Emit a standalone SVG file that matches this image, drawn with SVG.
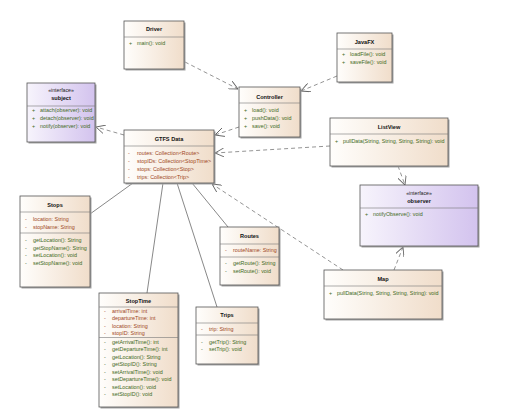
<svg xmlns="http://www.w3.org/2000/svg" width="510" height="413" viewBox="0 0 510 413">
<style>
.box{stroke:#555;stroke-width:0.8}
.cls{fill:url(#gc)}
.itf{fill:url(#gi)}
.sh{fill:#a4a4a4}
.sep{stroke:#777;stroke-width:0.6}
text{font-family:"Liberation Sans",Arial,sans-serif;font-size:5.4px}
.t{font-weight:bold;font-size:5.6px;text-anchor:middle;fill:#111}
.st{font-size:5.2px;text-anchor:middle;fill:#222}
.a{fill:#a0471c}
.m{fill:#3f6a1c}
.dep{fill:none;stroke:#666;stroke-width:0.7;stroke-dasharray:4,3}
.as{fill:none;stroke:#555;stroke-width:0.7}
</style>
<defs>
<linearGradient id="gc" x1="0" y1="0" x2="1" y2="0">
<stop offset="0" stop-color="#fffefc"/>
<stop offset="1" stop-color="#f0ddca"/>
</linearGradient>
<linearGradient id="gi" x1="0" y1="0" x2="1" y2="0">
<stop offset="0" stop-color="#f7f4fc"/>
<stop offset="1" stop-color="#d3c3ee"/>
</linearGradient>
<marker id="arr" viewBox="0 0 10 10" refX="10" refY="5" markerWidth="9" markerHeight="9" markerUnits="userSpaceOnUse" orient="auto">
<path d="M0,0 L10,5 L0,10" fill="none" stroke="#666" stroke-width="1"/>
</marker>
</defs>
<rect width="510" height="413" fill="#ffffff"/>

<g id="connectors">
<line class="dep" x1="185" y1="62" x2="238" y2="89" marker-end="url(#arr)"/>
<line class="dep" x1="337" y1="76" x2="301" y2="91" marker-end="url(#arr)"/>
<line class="dep" x1="239" y1="127" x2="215" y2="135" marker-end="url(#arr)"/>
<line class="dep" x1="124" y1="135" x2="96" y2="127" marker-end="url(#arr)"/>
<line class="dep" x1="330" y1="146" x2="215" y2="153" marker-end="url(#arr)"/>
<line class="dep" x1="398" y1="166" x2="405" y2="185" marker-end="url(#arr)"/>
<line class="dep" x1="394" y1="270" x2="403" y2="247" marker-end="url(#arr)"/>
<line class="dep" x1="343" y1="270" x2="212" y2="184" marker-end="url(#arr)"/>
<line class="as" x1="133" y1="183" x2="90" y2="214"/>
<line class="as" x1="163" y1="183" x2="147" y2="293"/>
<line class="as" x1="177" y1="183" x2="217" y2="307"/>
<line class="as" x1="192" y1="183" x2="228" y2="227"/>
</g>

<g id="driver">
<rect class="sh" x="125.5" y="22.5" width="60" height="48"/>
<rect class="box cls" x="124" y="21" width="60" height="48"/>
<line class="sep" x1="124" y1="37" x2="184" y2="37"/>
<text class="t" x="154" y="31">Driver</text>
<text class="m" x="129" y="45">+</text><text class="m" x="137" y="45">main(): void</text>
</g>

<g id="javafx">
<rect class="sh" x="338.5" y="34.5" width="55" height="49"/>
<rect class="box cls" x="337" y="33" width="55" height="49"/>
<line class="sep" x1="337" y1="49" x2="392" y2="49"/>
<text class="t" x="364.5" y="44">JavaFX</text>
<text class="m" x="342" y="56">+</text><text class="m" x="350" y="56">loadFile(): void</text>
<text class="m" x="342" y="64">+</text><text class="m" x="350" y="64">saveFile(): void</text>
</g>

<g id="controller">
<rect class="sh" x="240.5" y="88.5" width="61" height="50"/>
<rect class="box cls" x="239" y="87" width="61" height="50"/>
<line class="sep" x1="239" y1="103" x2="300" y2="103"/>
<text class="t" x="269.5" y="99">Controller</text>
<text class="m" x="244" y="112">+</text><text class="m" x="252" y="112">load(): void</text>
<text class="m" x="244" y="120">+</text><text class="m" x="252" y="120">pushData(): void</text>
<text class="m" x="244" y="128">+</text><text class="m" x="252" y="128">save(): void</text>
</g>

<g id="subject">
<rect class="sh" x="28.5" y="84.5" width="68" height="59"/>
<rect class="box itf" x="27" y="83" width="68" height="59"/>
<line class="sep" x1="27" y1="106" x2="95" y2="106"/>
<text class="st" x="61" y="92">«interface»</text>
<text class="t" x="61" y="100">subject</text>
<text class="m" x="32" y="112">+</text><text class="m" x="40" y="112">attach(observer): void</text>
<text class="m" x="32" y="120">+</text><text class="m" x="40" y="120">detach(observer): void</text>
<text class="m" x="32" y="128">+</text><text class="m" x="40" y="128">notify(observer): void</text>
</g>

<g id="gtfsdata">
<rect class="sh" x="125.5" y="131.5" width="90" height="53"/>
<rect class="box cls" x="124" y="130" width="90" height="53"/>
<line class="sep" x1="124" y1="146" x2="214" y2="146"/>
<text class="t" x="169" y="141">GTFS Data</text>
<text class="a" x="128" y="155">-</text><text class="a" x="137" y="155">routes: Collection&lt;Route&gt;</text>
<text class="a" x="128" y="163">-</text><text class="a" x="137" y="163">stopIDs: Collection&lt;StopTime&gt;</text>
<text class="a" x="128" y="171">-</text><text class="a" x="137" y="171">stops: Collection&lt;Stop&gt;</text>
<text class="a" x="128" y="179">-</text><text class="a" x="137" y="179">trips: Collection&lt;Trip&gt;</text>
</g>

<g id="listview">
<rect class="sh" x="331.5" y="119.5" width="118" height="48"/>
<rect class="box cls" x="330" y="118" width="118" height="48"/>
<line class="sep" x1="330" y1="134" x2="448" y2="134"/>
<text class="t" x="389" y="129">ListView</text>
<text class="m" x="335" y="143">+</text><text class="m" x="343" y="143">pullData(String, String, String, String): void</text>
</g>

<g id="observer">
<rect class="sh" x="361.5" y="186.5" width="118" height="61"/>
<rect class="box itf" x="360" y="185" width="118" height="61"/>
<line class="sep" x1="360" y1="208" x2="478" y2="208"/>
<text class="st" x="419" y="195">«interface»</text>
<text class="t" x="419" y="203">observer</text>
<text class="m" x="365" y="216">+</text><text class="m" x="373" y="216">notifyObserve(): void</text>
</g>

<g id="stops">
<rect class="sh" x="21.5" y="197.5" width="70" height="91"/>
<rect class="box cls" x="20" y="196" width="70" height="91"/>
<line class="sep" x1="20" y1="212" x2="90" y2="212"/>
<line class="sep" x1="20" y1="233" x2="90" y2="233"/>
<text class="t" x="55" y="207">Stops</text>
<text class="a" x="25" y="221">-</text><text class="a" x="33" y="221">location: String</text>
<text class="a" x="25" y="229">-</text><text class="a" x="33" y="229">stopName: String</text>
<text class="m" x="25" y="242">-</text><text class="m" x="33" y="242">getLocation(): String</text>
<text class="m" x="25" y="249.5">-</text><text class="m" x="33" y="249.5">getStopName(): String</text>
<text class="m" x="25" y="257">-</text><text class="m" x="33" y="257">setLocation(): void</text>
<text class="m" x="25" y="265">-</text><text class="m" x="33" y="265">setStopName(): void</text>
</g>

<g id="routes">
<rect class="sh" x="221.5" y="228.5" width="59" height="58"/>
<rect class="box cls" x="220" y="227" width="59" height="58"/>
<line class="sep" x1="220" y1="244" x2="279" y2="244"/>
<line class="sep" x1="220" y1="257" x2="279" y2="257"/>
<text class="t" x="249.5" y="238">Routes</text>
<text class="a" x="225" y="252">-</text><text class="a" x="233" y="252">routeName: String</text>
<text class="m" x="225" y="265">-</text><text class="m" x="233" y="265">getRoute(): String</text>
<text class="m" x="225" y="273">-</text><text class="m" x="233" y="273">setRoute(): void</text>
</g>

<g id="map">
<rect class="sh" x="325.5" y="271.5" width="118" height="49"/>
<rect class="box cls" x="324" y="270" width="118" height="49"/>
<line class="sep" x1="324" y1="286" x2="442" y2="286"/>
<text class="t" x="383" y="281">Map</text>
<text class="m" x="329" y="295">+</text><text class="m" x="337" y="295">pullData(String, String, String, String): void</text>
</g>

<g id="stoptime">
<rect class="sh" x="100.5" y="294.5" width="79" height="114"/>
<rect class="box cls" x="99" y="293" width="79" height="114"/>
<line class="sep" x1="99" y1="307" x2="178" y2="307"/>
<line class="sep" x1="99" y1="337.5" x2="178" y2="337.5"/>
<text class="t" x="138.5" y="303">StopTime</text>
<text class="a" x="104" y="313">-</text><text class="a" x="112" y="313">arrivalTime: int</text>
<text class="a" x="104" y="320">-</text><text class="a" x="112" y="320">departureTime: int</text>
<text class="a" x="104" y="327.5">-</text><text class="a" x="112" y="327.5">location: String</text>
<text class="a" x="104" y="335">-</text><text class="a" x="112" y="335">stopID: String</text>
<text class="m" x="104" y="343.5">-</text><text class="m" x="112" y="343.5">getArrivalTime(): int</text>
<text class="m" x="104" y="351">-</text><text class="m" x="112" y="351">getDepartureTime(): int</text>
<text class="m" x="104" y="358.5">-</text><text class="m" x="112" y="358.5">getLocation(): String</text>
<text class="m" x="104" y="366">-</text><text class="m" x="112" y="366">getStopID(): String</text>
<text class="m" x="104" y="373.5">-</text><text class="m" x="112" y="373.5">setArrivalTime(): void</text>
<text class="m" x="104" y="381">-</text><text class="m" x="112" y="381">setDepartureTime(): void</text>
<text class="m" x="104" y="388.5">-</text><text class="m" x="112" y="388.5">setLocation(): void</text>
<text class="m" x="104" y="396">-</text><text class="m" x="112" y="396">setStopID(): void</text>
</g>

<g id="trips">
<rect class="sh" x="197.5" y="308.5" width="62" height="57"/>
<rect class="box cls" x="196" y="307" width="62" height="57"/>
<line class="sep" x1="196" y1="323" x2="258" y2="323"/>
<line class="sep" x1="196" y1="335" x2="258" y2="335"/>
<text class="t" x="227" y="317">Trips</text>
<text class="a" x="201" y="331">-</text><text class="a" x="209" y="331">trip: String</text>
<text class="m" x="201" y="344">-</text><text class="m" x="209" y="344">getTrip(): String</text>
<text class="m" x="201" y="351">-</text><text class="m" x="209" y="351">setTrip(): void</text>
</g>
</svg>
